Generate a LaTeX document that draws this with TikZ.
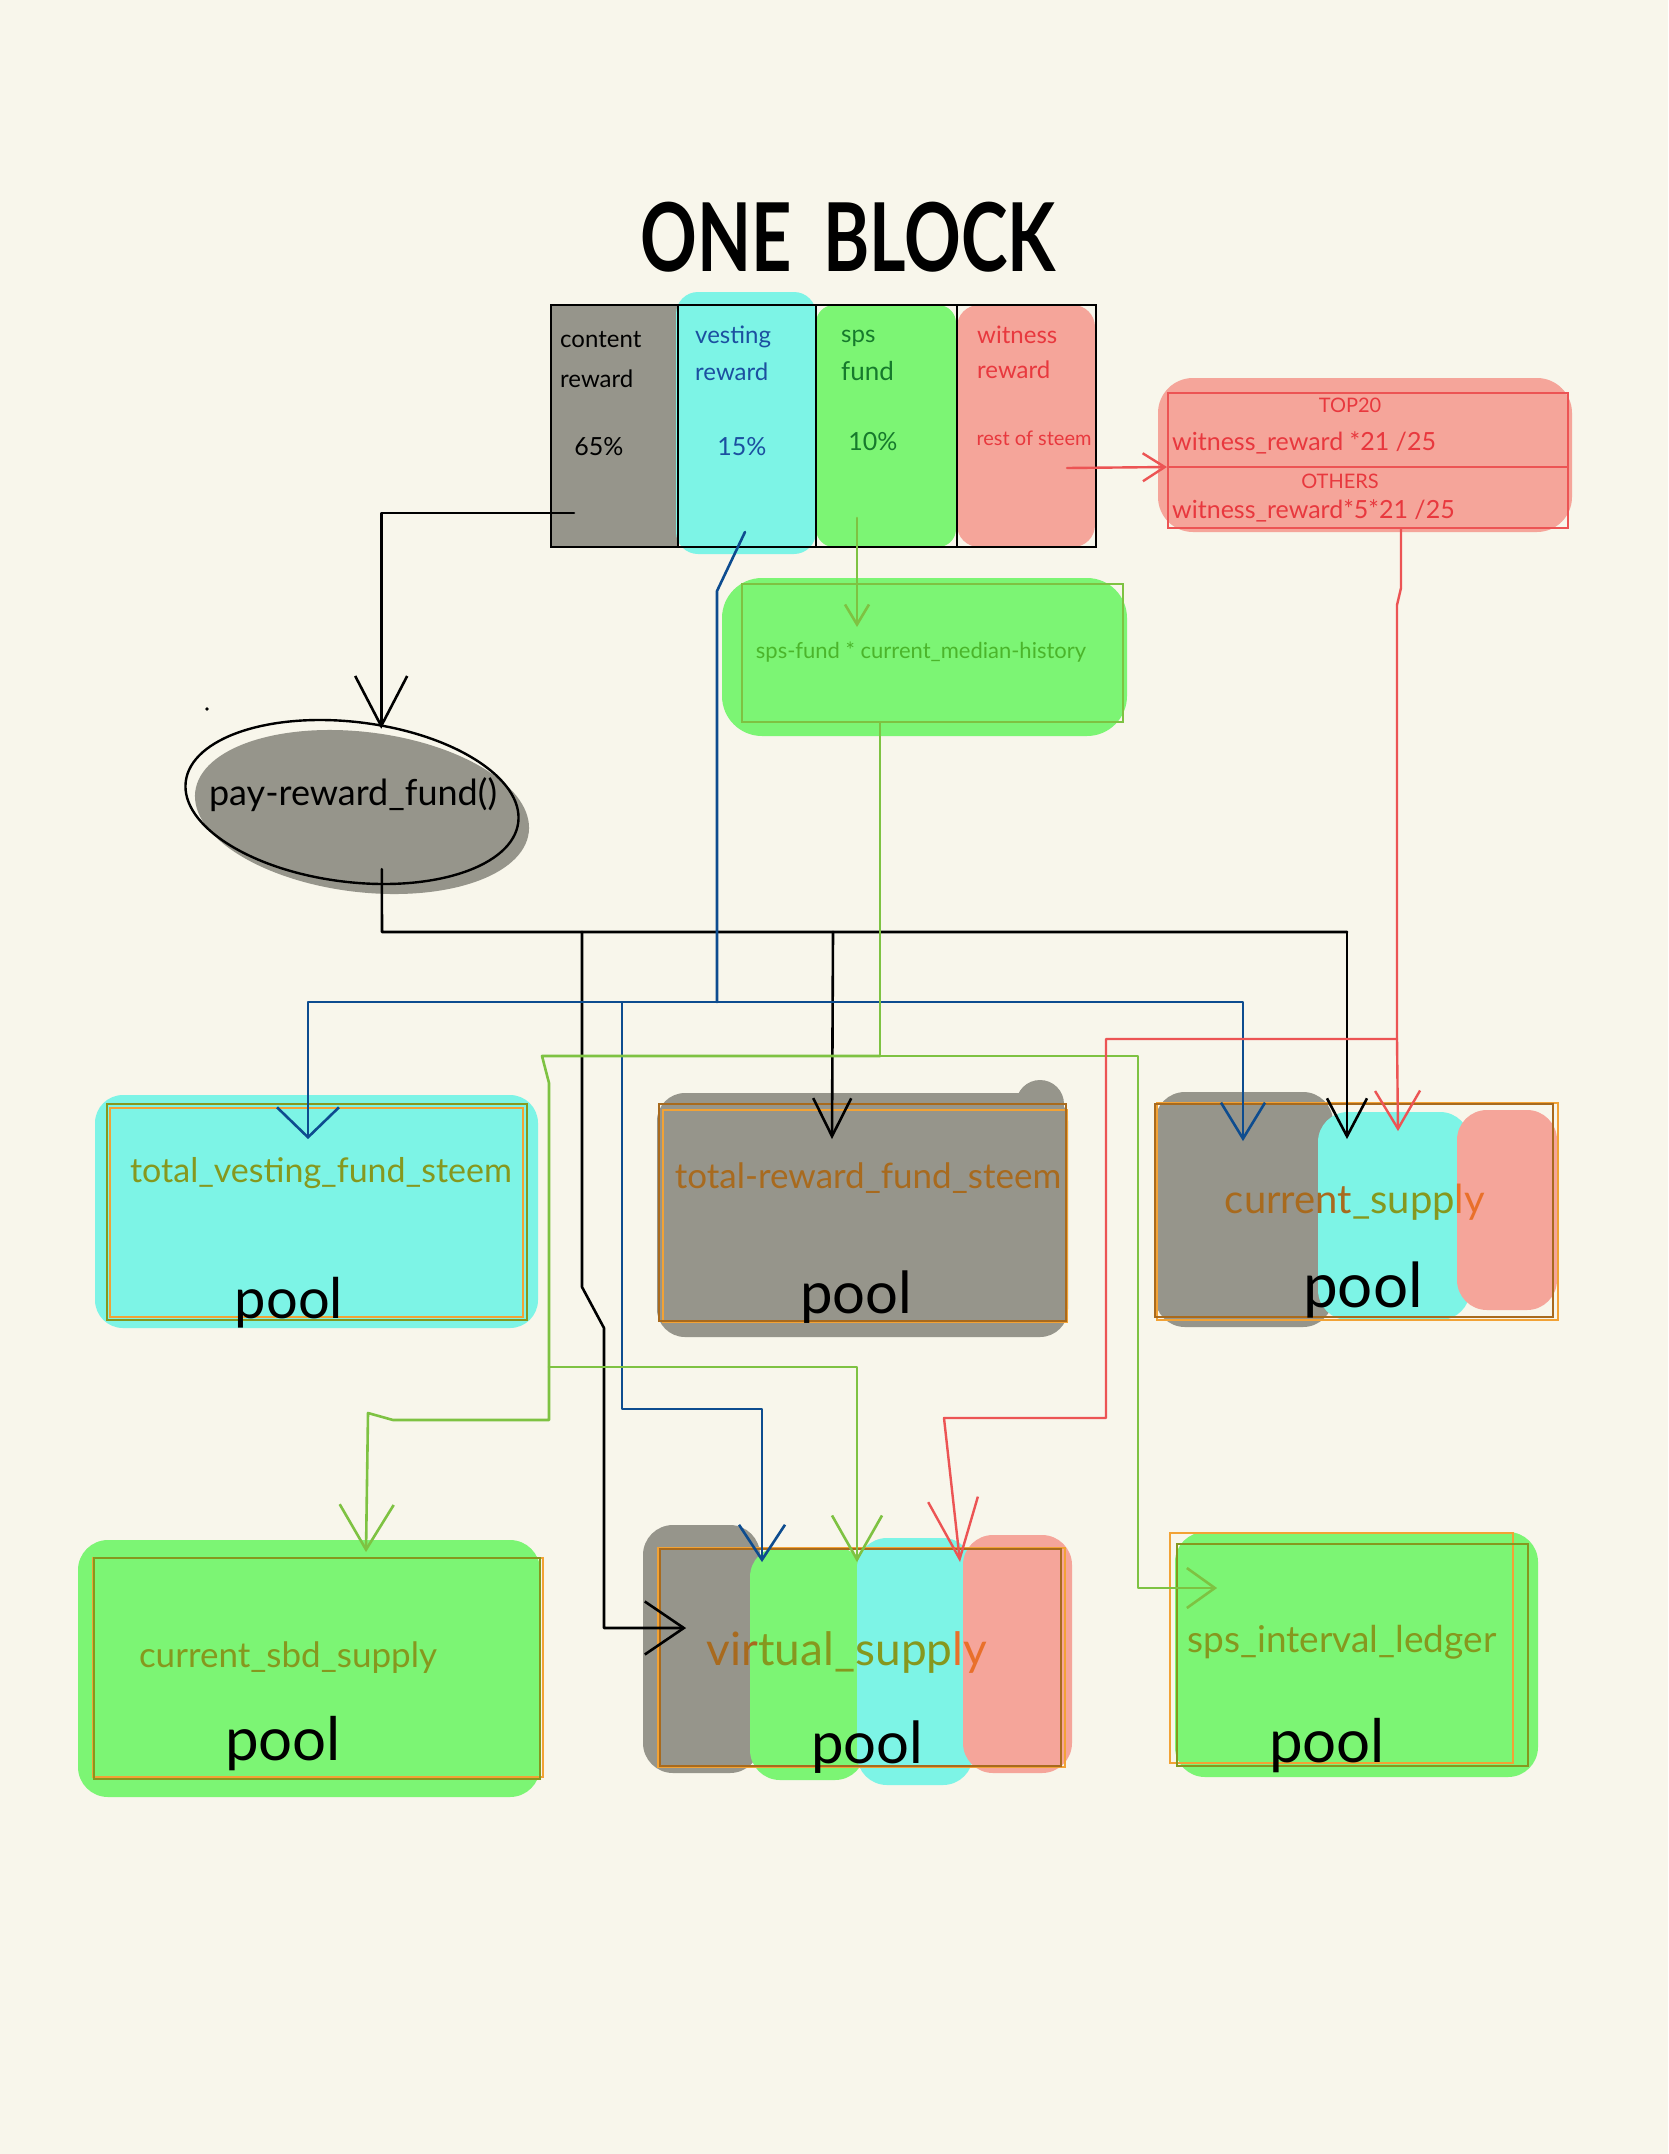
\documentclass[tikz,border=0pt]{standalone}
\usepackage{fontspec}
\setmainfont{Lato}
\usetikzlibrary{arrows.meta,shapes.geometric}
\definecolor{bg}{HTML}{F8F6EB}
\definecolor{cgray}{HTML}{96958B}
\definecolor{ccyan}{HTML}{7DF4E6}
\definecolor{cgreen}{HTML}{7CF574}
\definecolor{csalmon}{HTML}{F5A59A}
\definecolor{borange}{HTML}{F2A235}
\definecolor{olv}{HTML}{86981E}
\definecolor{brn}{HTML}{A86A1E}
\definecolor{ornge}{HTML}{E9702A}
\definecolor{bline}{HTML}{0D4C8F}
\definecolor{gline}{HTML}{7EC242}
\definecolor{rline}{HTML}{EC5454}
\definecolor{gtxt}{HTML}{4BB52B}
\definecolor{rtxt}{HTML}{E8383E}
\definecolor{btxt}{HTML}{1B4FA0}
\definecolor{dgtxt}{HTML}{167A2C}
\newcommand{\fsz}[1]{\fontsize{#1}{#1}\selectfont}
\begin{document}
\begin{tikzpicture}[x=1pt,y=-1pt,
  txt/.style={inner sep=0pt, anchor=base},
  txtw/.style={inner sep=0pt, anchor=base west},
  cellbox/.style={inner sep=0pt, minimum height=242pt, rounded corners=8pt},
  poolbox/.style={draw=borange, line width=1.8pt, inner sep=0pt},
  kline/.style={draw=black, line width=2.6pt, line join=round, line cap=round},
  bluel/.style={draw=bline, line width=2.6pt, line join=round, line cap=round},
  greenl/.style={draw=gline, line width=2.6pt, line join=round, line cap=round},
  redl/.style={draw=rline, line width=2.4pt, line join=round, line cap=round},
  vhead/.style 2 args={-{Straight Barb[length=#1pt,width=#2pt]}},
]
\fill[bg] (0,0) rectangle (1668,2154);
\useasboundingbox (0,0) rectangle (1668,2154);

% ---------- title
\node[txt, font=\fsz{95}\bfseries] (title) at (848,271) {\scalebox{0.74}[1]{ONE\hspace{0.45em}BLOCK}};

% ---------- background blobs
\fill[csalmon, rounded corners=35pt] (1158,378) rectangle (1572,532);
\fill[cgreen, rounded corners=40pt] (722,578) rectangle (1127,736);
\fill[cgray, rotate around={-7:(362,812)}] (362,812) ellipse [x radius=168pt, y radius=80pt];
\fill[ccyan, rounded corners=28pt] (95,1095) rectangle (538,1328);
\fill[cgray, rounded corners=28pt] (657,1093) rectangle (1068,1337);
\fill[cgray] (1040,1104) circle (24pt);
\fill[cgray, rounded corners=30pt] (1155,1092) rectangle (1333,1327);
\fill[ccyan, rounded corners=30pt] (1318,1112) rectangle (1470,1320);
\fill[csalmon, rounded corners=30pt] (1457,1110) rectangle (1557,1310);
\fill[cgreen, rounded corners=30pt] (78,1540) rectangle (540,1797);
\fill[cgray, rounded corners=30pt] (643,1525) rectangle (760,1773);
\fill[cgreen, rounded corners=30pt] (750,1547) rectangle (865,1780);
\fill[ccyan, rounded corners=30pt] (857,1538) rectangle (973,1785);
\fill[csalmon, rounded corners=30pt] (963,1535) rectangle (1072,1773);
\fill[cgreen, rounded corners=30pt] (1175,1532) rectangle (1538,1777);

% ---------- one block cells
\node[cellbox, fill=cgray, minimum width=128pt, rounded corners=4pt] (content) at (614,426) {};
\node[cellbox, fill=ccyan, minimum width=140pt, minimum height=262pt, rounded corners=22pt] (vesting) at (746,423) {};
\node[cellbox, fill=cgreen, minimum width=140pt, rounded corners=18pt] (sps) at (886,426) {};
\node[cellbox, fill=csalmon, minimum width=138pt, rounded corners=22pt] (witness) at (1026,426) {};
\node[draw, line width=2.2pt, minimum width=545pt, minimum height=242pt, inner sep=0pt] (block) at (823.5,426) {};
\draw[line width=2pt] (content.north east |- block.north) -- (content.south east |- block.south);
\draw[line width=2pt] (sps.north west) -- (sps.south west);
\draw[line width=2pt] (witness.north west) -- (witness.south west);

\node[txtw, font=\fsz{24}] (contentA) at (560,347) {content};
\node[txtw, font=\fsz{24}] (contentB) at (560,387) {reward};
\node[txt, font=\fsz{25}] (contentC) at (599,455) {65\%};
\node[txtw, font=\fsz{24}, text=btxt] (vestingA) at (695,343) {vesting};
\node[txtw, font=\fsz{24}, text=btxt] (vestingB) at (695,380) {reward};
\node[txt, font=\fsz{25}, text=btxt] (vestingC) at (742,455) {15\%};
\node[txtw, font=\fsz{24}, text=dgtxt] (spsA) at (841,342) {sps};
\node[txtw, font=\fsz{26}, text=dgtxt] (spsB) at (841,380) {fund};
\node[txt, font=\fsz{25}, text=dgtxt] (spsC) at (873,450) {10\%};
\node[txtw, font=\fsz{24}, text=rtxt] (witnessA) at (977,343) {witness};
\node[txtw, font=\fsz{24}, text=rtxt] (witnessB) at (977,378) {reward};
\node[txt, font=\fsz{20}, text=rtxt] (witnessC) at (1034,445) {rest of steem};

% ---------- witness distribution box
\node[draw=rline, line width=2pt, minimum width=400pt, minimum height=135pt, inner sep=0pt] (wbox) at (1368,460.5) {};
\draw[rline, line width=2pt] ([yshift=-6.5pt]wbox.west) -- ([yshift=-6.5pt]wbox.east);
\node[txt, font=\fsz{20}, text=rtxt] (wtop) at (1350,412) {TOP20};
\node[txtw, font=\fsz{25}, text=rtxt] (wtopf) at (1172,450) {witness\_reward *21 /25};
\node[txt, font=\fsz{20}, text=rtxt] (woth) at (1340,488) {OTHERS};
\node[txtw, font=\fsz{25}, text=rtxt] (wothf) at (1172,518) {witness\_reward*5*21 /25};

% ---------- sps fund box
\node[draw=gline, line width=2pt, minimum width=381pt, minimum height=138pt, inner sep=0pt] (spsbox) at (932.5,653) {};
\node[txt, font=\fsz{22}, text=gtxt] (spsboxT) at (921,658) {sps-fund * current\_median-history};

% ---------- pay_reward_fund ellipse
\node[ellipse, draw, line width=2.4pt, minimum width=335pt, minimum height=160pt, rotate=-7, inner sep=0pt] (prf) at (352,802) {};
\node[txt, font=\fsz{36}] (prfT) at (353,805) {pay-reward\_fund()};
\fill (207,709) circle (1.8pt);

% ---------- pools
\node[poolbox, minimum width=413pt, minimum height=209pt] (tvf) at (316.5,1212.5) {};
\node[poolbox, minimum width=404pt, minimum height=212pt] (trf) at (865,1216) {};
\node[poolbox, minimum width=401pt, minimum height=217pt] (cs) at (1357.5,1211.5) {};
\node[poolbox, minimum width=450pt, minimum height=219pt] (sbd) at (318,1667.5) {};
\node[poolbox, minimum width=407pt, minimum height=219pt] (vs) at (861.5,1657.5) {};
\node[poolbox, minimum width=343pt, minimum height=230pt] (sil) at (1341.5,1648) {};
\draw[olv, line width=2pt] ([xshift=-2pt,yshift=3pt]tvf.north west) rectangle ([xshift=3pt,yshift=-2pt]tvf.south east);
\draw[brn, line width=2pt] ([xshift=-3pt,yshift=5pt]trf.north west) rectangle ([xshift=-2pt,yshift=2pt]trf.south east);
\draw[brn, line width=2pt] ([xshift=-1pt,yshift=-2pt]cs.north west) rectangle ([xshift=-6pt,yshift=4pt]cs.south east);
\draw[olv, line width=2pt] ([xshift=2pt,yshift=-1pt]sbd.north west) rectangle ([xshift=-4pt,yshift=-1pt]sbd.south east);
\draw[brn, line width=2pt] ([xshift=3pt,yshift=-2pt]vs.north west) rectangle ([xshift=-5pt,yshift=2pt]vs.south east);
\draw[olv, line width=2pt] ([xshift=8pt,yshift=-12pt]sil.north west) rectangle ([xshift=14pt,yshift=-2pt]sil.south east);

\node[txt, font=\fsz{34}, text=olv] (tvfT) at (321,1182) {total\_vesting\_fund\_steem};
\node[txt, font=\fsz{35}, text=brn] (trfT) at (868,1188) {total-reward\_fund\_steem};
\node[txt, font=\fsz{40}] (csT) at (1355,1213) {\textcolor{brn}{current}\textcolor{olv}{\_supp}\textcolor{ornge}{ly}};
\node[txt, font=\fsz{35}, text=olv] (sbdT) at (288,1667) {current\_sbd\_supply};
\node[txt, font=\fsz{46}] (vsT) at (847,1665) {\textcolor{brn}{vir}\textcolor{olv}{tual\_supp}\textcolor{ornge}{ly}};
\node[txt, font=\fsz{37}, text=olv] (silT) at (1342,1652) {sps\_interval\_ledger};

\node[txt, font=\fsz{56}] (tvfP) at (289,1318) {pool};
\node[txt, font=\fsz{58}] (trfP) at (856,1313) {pool};
\node[txt, font=\fsz{62}] (csP) at (1363,1307) {pool};
\node[txt, font=\fsz{60}] (sbdP) at (283,1760) {pool};
\node[txt, font=\fsz{58}] (vsP) at (867,1763) {pool};
\node[txt, font=\fsz{60}] (silP) at (1327,1762) {pool};

% ---------- connectors: content reward
\draw[kline, vhead={50}{52}] ([xshift=-40pt,yshift=-87pt]content.center) -| ([xshift=19.3pt,yshift=-7.4pt]prf.north);
\draw[kline] ([xshift=39.7pt,yshift=13.4pt]prf.south) -- (382,932) -- (582,932) coordinate (kJ1) -- (833,932) coordinate (kJ2) -- (1347,932) coordinate (kJ3);
\draw[kline, vhead={38}{40}] (kJ3) -- ([xshift=-10.5pt,yshift=-37pt]cs.north);
\draw[kline, vhead={38}{38}] (kJ2) -- ([xshift=-33pt,yshift=-30pt]trf.north);
\draw[kline, vhead={39}{53}] (kJ1) -- (582,1287) -- (604,1328) -- (604,1628) -- ([xshift=29pt,yshift=29.5pt]vs.west);

% ---------- connectors: vesting reward
\draw[bluel] ([xshift=-1pt,yshift=-109pt]vesting.center) -- (717,591) -- (717,1002) coordinate (bJ);
\draw[bluel, vhead={30}{62}] (bJ) -| ([xshift=-8.5pt,yshift=-32pt]tvf.north);
\draw[bluel, vhead={36}{44}] (bJ) -| ([xshift=-114.5pt,yshift=-39pt]cs.north);
\draw[bluel, vhead={35}{46}] (bJ) -| (622,1409) -| ([xshift=-99.5pt,yshift=-15pt]vs.north);

% ---------- connectors: sps fund
\draw[greenl, vhead={20}{24}] ([xshift=-29pt,yshift=-92pt]sps.center) -- ([xshift=-75.5pt,yshift=-44pt]spsbox.north);
\draw[greenl] ([xshift=-52.5pt]spsbox.south) -- (880,1056) coordinate (gJ);
\draw[greenl, vhead={45}{54}] (gJ) -- (542,1056) -- (549,1083) -- (549,1367) coordinate (gK) -- (549,1420) -- (393,1420) -- (368,1413) -- ([xshift=48pt,yshift=5pt]sbd.north);
\draw[greenl, vhead={44}{50}] (gK) -| ([xshift=-4.5pt,yshift=-15pt]vs.north);
\draw[greenl, vhead={28}{40}] (gJ) -| (1138,1588) -- ([xshift=48pt,yshift=60pt]sil.west);

% ---------- connectors: witness reward
\draw[redl, vhead={22}{28}] ([xshift=41pt,yshift=-42pt]witness.center) -- ([yshift=-6.5pt]wbox.west);
\draw[redl] ([xshift=33pt]wbox.south) -- (1401,588) -- (1397,605) -- (1397,1039) coordinate (rJ);
\draw[redl, vhead={38}{45}] (rJ) -- ([xshift=40.5pt,yshift=-29pt]cs.north);
\draw[redl, vhead={60}{50}] (rJ) -| (1106,1418) -- (944,1418) -- ([xshift=98.5pt,yshift=-15pt]vs.north);
\end{tikzpicture}
\end{document}
